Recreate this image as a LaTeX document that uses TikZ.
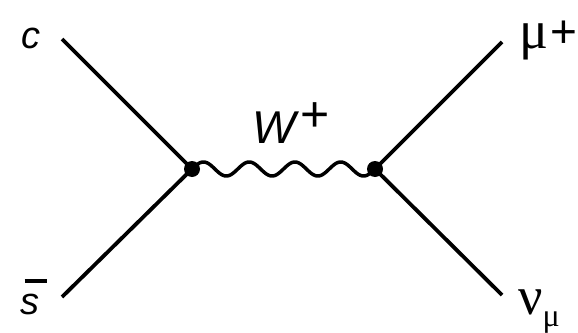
\documentclass[tikz,border=0pt]{standalone}
\usepackage{fontspec}
\setmainfont{Liberation Sans}
\newfontfamily\greekfont{Liberation Serif}
\begin{document}
\begin{tikzpicture}[x=1pt,y=-1pt,
  fermion/.style={line width=3.8pt},
  boson/.style={line width=3.5pt, line join=round},
  vertex/.style={circle, fill=black, inner sep=0pt, minimum size=16pt},
  lbl/.style={inner sep=0pt, font=\fontsize{38}{40}\selectfont\itshape},
  glbl/.style={inner sep=0pt, font=\fontsize{54}{58}\selectfont\greekfont}]
\useasboundingbox (0,0) rectangle (578,332);
\fill[white] (0,0) rectangle (578,332);
\coordinate (p1) at (192,169);
\coordinate (p2) at (375,169);
\coordinate (c) at (62,39);
\coordinate (s) at (62,297);
\coordinate (mu) at (502,42);
\coordinate (nu) at (502,295);
\draw[fermion] (c) -- (p1);
\draw[fermion] (s) -- (p1);
\draw[fermion] (p2) -- (mu);
\draw[fermion] (p2) -- (nu);
\begin{scope}[shift={(p1)}]
  \draw[boson] plot[domain=0:183, samples=160, smooth] (\x, {-7*sin(\x/183*4*360)});
\end{scope}
\node[vertex] (v1) at (p1) {};
\node[vertex] (v2) at (p2) {};
\node[lbl, anchor=base] (lc) at (31,48) {c};
\node[lbl, anchor=base] (ls) at (30,314) {\makebox[0pt][l]{\hspace{4pt}\rule[31pt]{22pt}{4pt}}s};
\node[lbl, anchor=base west, font=\fontsize{46}{50}\selectfont\itshape] (lw) at (252,143)
  {W\kern5pt\raisebox{12pt}{\fontsize{50}{52}\selectfont\upshape +}};
\node[glbl, anchor=base west] (lmu) at (519,48)
  {μ\kern2pt\raisebox{0.5pt}{\fontsize{46}{48}\selectfont\rmfamily +}};
\node[glbl, anchor=base west] (lnu) at (518,314)
  {ν\kern0pt\raisebox{-12pt}{\fontsize{32}{34}\selectfont\greekfont μ}};
\end{tikzpicture}
\end{document}
